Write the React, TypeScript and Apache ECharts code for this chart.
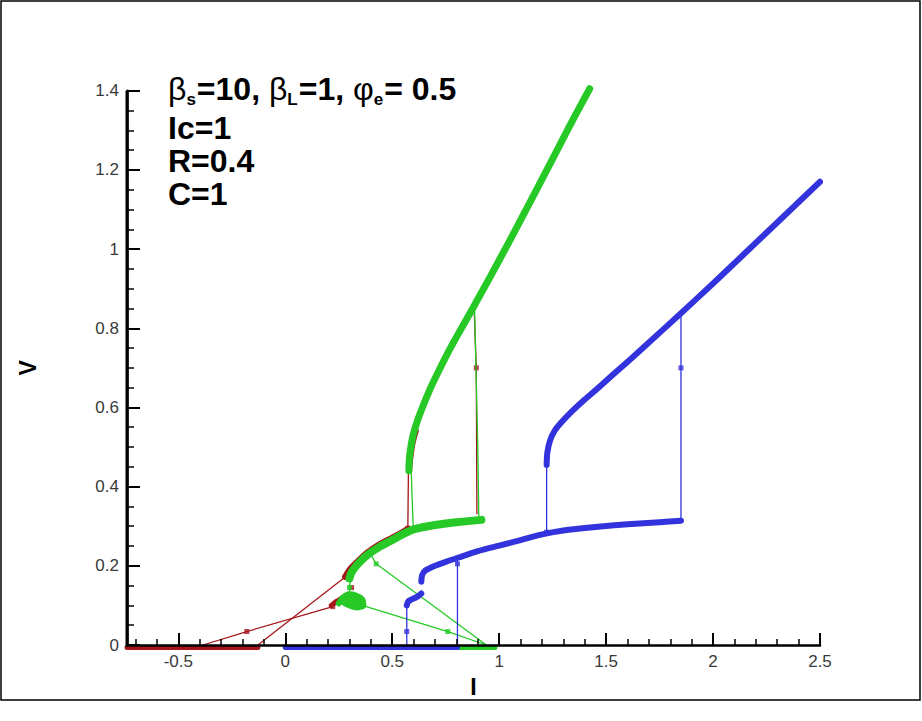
import React, { useEffect, useRef } from "react";
import * as echarts from "echarts";

type Pt = [number, number];

// ---- axis ranges and ticks ----
const X_MIN = -0.74;
const X_MAX = 2.5;
const Y_MIN = 0;
const Y_MAX = 1.4;
const xMajorTicks = [-0.5, 0, 0.5, 1, 1.5, 2, 2.5];
const xMinorTicks = [
  -0.7, -0.6, -0.4, -0.3, -0.2, -0.1, 0.1, 0.2, 0.3, 0.4, 0.6, 0.7, 0.8, 0.9,
  1.1, 1.2, 1.3, 1.4, 1.6, 1.7, 1.8, 1.9, 2.1, 2.2, 2.3, 2.4,
];

// ---- red sweep (beta_L = 1, first run) ----
const redZero: Pt[] = [[-0.74, -0.006], [-0.128, -0.006]];
const redLower: Pt[] = [
  [0.28, 0.172], [0.3, 0.19], [0.34, 0.212], [0.38, 0.232], [0.44, 0.254],
  [0.5, 0.271], [0.55, 0.286], [0.575, 0.294],
];
const redUpper: Pt[] = [[0.579, 0.44], [0.584, 0.47], [0.595, 0.51], [0.61, 0.54]];
const redBlob: Pt[] = [[0.215, 0.1], [0.24, 0.11], [0.27, 0.12], [0.3, 0.125]];
const redLinkA: Pt[] = [[-0.128, 0], [0.28, 0.172]];
const redLinkB: Pt[] = [[-0.385, 0], [-0.18, 0.034], [0.222, 0.097]];
const redJumpLeft: Pt[] = [[0.573, 0.295], [0.576, 0.45]];
const redJumpRight: Pt[] = [[0.883, 0.85], [0.893, 0.7], [0.896, 0.33]];
const redMarks: Pt[] = [
  [-0.18, 0.034], [0.222, 0.097], [0.238, 0.108], [0.31, 0.145], [0.28, 0.172],
  [0.573, 0.295], [0.893, 0.7],
];

// ---- green sweep ----
const greenZero: Pt[] = [[0.8, -0.006], [0.98, -0.006]];
const greenLower: Pt[] = [
  [0.3, 0.168], [0.31, 0.184], [0.34, 0.205], [0.38, 0.226], [0.44, 0.248],
  [0.5, 0.265], [0.55, 0.28], [0.6, 0.292], [0.7, 0.303], [0.8, 0.31], [0.917, 0.316],
];
const greenUpper: Pt[] = [
  [0.578, 0.44], [0.58, 0.47], [0.587, 0.5], [0.6, 0.535], [0.62, 0.57],
  [0.645, 0.605], [0.68, 0.65], [0.72, 0.695], [0.76, 0.738], [0.81, 0.787],
  [0.876, 0.85], [0.956, 0.928], [1.05, 1.022], [1.15, 1.124], [1.25, 1.228],
  [1.35, 1.332], [1.423, 1.405],
];
const greenBlob: Pt[] = [
  [0.25, 0.105], [0.27, 0.12], [0.3, 0.128], [0.33, 0.125], [0.36, 0.115],
  [0.365, 0.1], [0.34, 0.095], [0.3, 0.1], [0.27, 0.11], [0.3, 0.115], [0.34, 0.108],
];
const greenLinkA: Pt[] = [[0.94, 0], [0.76, 0.034], [0.36, 0.1]];
const greenLinkB: Pt[] = [[0.94, 0], [0.425, 0.205], [0.4, 0.228]];
const greenLinkC: Pt[] = [[0.3, 0.125], [0.3, 0.145], [0.305, 0.175]];
const greenJumpLeft: Pt[] = [[0.598, 0.298], [0.588, 0.45]];
const greenJumpRight: Pt[] = [[0.905, 0.318], [0.9, 0.5], [0.885, 0.85]];
const greenMarks: Pt[] = [[0.76, 0.034], [0.425, 0.205], [0.3, 0.145]];

// ---- blue sweep ----
const blueZero: Pt[] = [[0, -0.006], [0.805, -0.006]];
const blueStep: Pt[] = [
  [0.568, 0.1], [0.575, 0.11], [0.59, 0.115], [0.61, 0.12], [0.625, 0.125], [0.636, 0.13],
];
const blueLower: Pt[] = [
  [0.636, 0.16], [0.64, 0.177], [0.655, 0.188], [0.7, 0.2], [0.75, 0.21], [0.81, 0.221],
  [0.9, 0.237], [1.0, 0.251], [1.1, 0.265], [1.19, 0.278], [1.3, 0.289], [1.45, 0.298],
  [1.6, 0.305], [1.75, 0.31], [1.85, 0.314],
];
const blueUpper: Pt[] = [
  [1.222, 0.455], [1.225, 0.485], [1.237, 0.515], [1.258, 0.54], [1.29, 0.562],
  [1.34, 0.59], [1.4, 0.62], [1.46, 0.648], [1.53, 0.682], [1.61, 0.72],
  [1.7, 0.764], [1.85, 0.838], [2.0, 0.913], [2.15, 0.99], [2.3, 1.067],
  [2.5, 1.17],
];
const blueLinkA: Pt[] = [[0.568, 0], [0.568, 0.034], [0.568, 0.1]];
const blueLinkB: Pt[] = [[0.805, 0], [0.805, 0.205], [0.805, 0.22]];
const blueJumpLeft: Pt[] = [[1.222, 0.285], [1.222, 0.455]];
const blueJumpRight: Pt[] = [[1.85, 0.314], [1.85, 0.7], [1.85, 0.84]];
const blueMarks: Pt[] = [[0.568, 0.034], [0.805, 0.205], [1.85, 0.7], [1.222, 0.285]];

const RED = "#a3161b";
const GREEN = "#26c926";
const BLUE = "#3333dd";

const thick = (data: Pt[], color: string, width: number, z = 3) => ({
  type: "line",
  data,
  symbol: "none",
  smooth: 0.25,
  clip: false,
  silent: true,
  z,
  lineStyle: { color, width, cap: "round", join: "round" },
});

const thin = (data: Pt[], color: string, z = 4) => ({
  type: "line",
  data,
  symbol: "none",
  clip: false,
  silent: true,
  z,
  lineStyle: { color, width: 1.3 },
});

const marks = (data: Pt[], color: string, z = 5) => ({
  type: "scatter",
  data,
  symbol: "rect",
  symbolSize: 5,
  clip: false,
  silent: true,
  z,
  itemStyle: { color },
});

const tickLabel = {
  color: "#3a3a3a",
  fontSize: 17,
  fontFamily: "'Liberation Sans Narrow', 'Liberation Sans', Arial, sans-serif",
};

export default function App() {
  const ref = useRef<HTMLDivElement>(null);

  useEffect(() => {
    if (!ref.current) return;
    const chart = echarts.init(ref.current, undefined, { renderer: "svg" });
    const bold = "'Liberation Sans', Arial, sans-serif";
    const big = 32;
    const lineText = (text: string, top: number) => ({
      type: "text",
      left: 168,
      top,
      style: { text, fontSize: big, fontWeight: "bold", fontFamily: bold, fill: "#000" },
    });
    chart.setOption({
      animation: false,
      backgroundColor: "#ffffff",
      grid: { left: 127, right: 102, top: 90.7, bottom: 76 },
      xAxis: [
        {
          type: "value",
          min: X_MIN,
          max: X_MAX,
          z: 10,
          splitLine: { show: false },
          axisLine: { show: true, onZero: false, lineStyle: { color: "#000", width: 2.5 } },
          axisTick: {
            show: true,
            inside: true,
            length: 12,
            customValues: xMajorTicks,
            lineStyle: { color: "#000", width: 2 },
          },
          axisLabel: { ...tickLabel, margin: 8, customValues: xMajorTicks },
          name: "I",
          nameLocation: "middle",
          nameGap: 30,
          nameTextStyle: { fontSize: 23, fontWeight: "bold", color: "#000", fontFamily: bold },
        },
        {
          type: "value",
          min: X_MIN,
          max: X_MAX,
          position: "bottom",
          z: 10,
          splitLine: { show: false },
          axisLine: { show: false, onZero: false },
          axisTick: {
            show: true,
            inside: true,
            length: 6,
            customValues: xMinorTicks,
            lineStyle: { color: "#000", width: 1.5 },
          },
          axisLabel: { show: false },
        },
      ],
      yAxis: {
        type: "value",
        min: Y_MIN,
        max: Y_MAX,
        interval: 0.2,
        position: "left",
        z: 10,
        splitLine: { show: false },
        axisLine: { show: true, onZero: false, lineStyle: { color: "#000", width: 2.5 } },
        axisTick: { show: true, inside: true, length: 13, lineStyle: { color: "#000", width: 2 } },
        minorTick: { show: true, splitNumber: 4, length: 7, lineStyle: { color: "#000", width: 1.5 } },
        axisLabel: { ...tickLabel, margin: 8 },
        name: "V",
        nameLocation: "middle",
        nameGap: 88,
        nameTextStyle: { fontSize: 23, fontWeight: "bold", color: "#000", fontFamily: bold },
      },
      series: [
        // red sweep underneath
        thick(redZero, RED, 5, 2),
        thick(redLower, RED, 6, 2),
        thick(redUpper, RED, 6, 2),
        thick(redBlob, RED, 5, 2),
        thin(redLinkA, RED, 2),
        thin(redLinkB, RED, 2),
        thin(redJumpLeft, RED, 2),
        thin(redJumpRight, RED, 2),
        marks(redMarks, RED, 2),
        // green sweep
        thick(greenZero, GREEN, 5, 3),
        thick(greenLower, GREEN, 8, 3),
        thick(greenUpper, GREEN, 7, 3),
        thick(greenBlob, GREEN, 6, 3),
        thin(greenLinkA, GREEN, 3),
        thin(greenLinkB, GREEN, 3),
        thin(greenLinkC, GREEN, 3),
        thin(greenJumpLeft, GREEN, 3),
        thin(greenJumpRight, GREEN, 3),
        marks(greenMarks, GREEN, 3),
        // blue sweep
        thick(blueZero, BLUE, 5, 3),
        thick(blueStep, BLUE, 6, 3),
        thick(blueLower, BLUE, 6, 3),
        thick(blueUpper, BLUE, 6, 3),
        thin(blueLinkA, BLUE, 3),
        thin(blueLinkB, BLUE, 3),
        thin(blueJumpLeft, BLUE, 3),
        thin(blueJumpRight, BLUE, 3),
        marks(blueMarks, BLUE, 3),
      ],
    });

    // solid left spine of the plot box, located through the grid's scales
    const p0 = chart.convertToPixel({ gridIndex: 0 }, [X_MIN, Y_MIN]) as number[];
    const p1 = chart.convertToPixel({ gridIndex: 0 }, [X_MIN, Y_MAX]) as number[];
    const spine =
      p0 && p1 && isFinite(p0[0]) && isFinite(p1[1])
        ? [
            {
              type: "rect",
              shape: { x: p0[0] - 1.5, y: p1[1], width: 3, height: p0[1] - p1[1] + 1.5 },
              style: { fill: "#000" },
              z: 50,
              silent: true,
            },
          ]
        : [];

    chart.setOption({
      graphic: [
        {
          type: "rect",
          shape: { x: 1, y: 1, width: 919, height: 699 },
          style: { fill: "none", stroke: "#000", lineWidth: 1.5 },
          silent: true,
        },
        ...spine,
        {
          type: "text",
          left: 168,
          top: 73,
          style: {
            text: "{g|β}{s|s}{t|=10, }{g|β}{s|L}{t|=1, }{g|φ}{s|e}{t|= 0.5}",
            rich: {
              g: { fontSize: big, lineHeight: 38, fontFamily: bold, color: "#000", verticalAlign: "middle" },
              t: { fontSize: big, lineHeight: 38, fontWeight: "bold", fontFamily: bold, color: "#000", verticalAlign: "middle" },
              s: { fontSize: 17, lineHeight: 17, fontWeight: "bold", fontFamily: bold, color: "#000", verticalAlign: "bottom", padding: [0, 1, 0, 0] },
            },
          },
        },
        lineText("Ic=1", 112),
        lineText("R=0.4", 145),
        lineText("C=1", 178),
      ],
    });
    return () => chart.dispose();
  }, []);

  return (
    <div
      ref={ref}
      style={{ position: "absolute", left: 0, top: 0, width: 922, height: 721 }}
    />
  );
}
